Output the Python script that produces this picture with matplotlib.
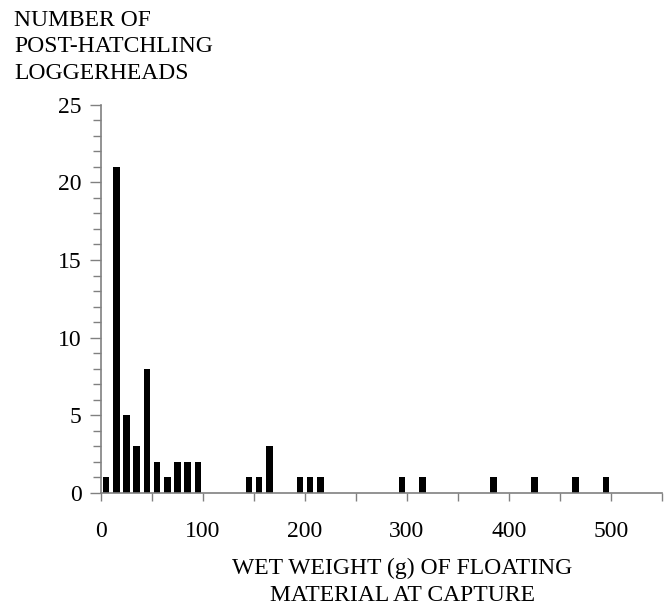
import numpy as np
import matplotlib.pyplot as plt
from matplotlib.ticker import MultipleLocator

plt.rcParams['font.family'] = ['Liberation Serif', 'DejaVu Serif']

# bin centres (g) and counts of post-hatchling loggerheads
weight = [5, 15, 25, 35, 45, 55, 65, 75, 85, 95,
          145, 155, 165, 195, 205, 215,
          295, 315, 385, 425, 465, 495]
count = [1, 21, 5, 3, 8, 2, 1, 2, 2, 2,
         1, 1, 3, 1, 1, 1,
         1, 1, 1, 1, 1, 1]
x_ticks = [0, 100, 200, 300, 400, 500]
y_ticks = [0, 5, 10, 15, 20, 25]

fig = plt.figure(figsize=(6.67, 6.05), dpi=100)
ax = fig.add_axes([101 / 667, 1 - 493 / 605, 561 / 667, (493 - 104.7) / 605])

ax.bar(weight, count, width=6.5, color='black', align='center')

ax.set_xlim(0, 550)
ax.set_ylim(0, 25)
ax.set_xticks(x_ticks)
ax.set_yticks(y_ticks)
ax.xaxis.set_minor_locator(MultipleLocator(50))
ax.yaxis.set_minor_locator(MultipleLocator(1))

grey = '#808080'
for s in ['top', 'right']:
    ax.spines[s].set_visible(False)
for s in ['left', 'bottom']:
    ax.spines[s].set_color(grey)
    ax.spines[s].set_linewidth(1.2)

ax.tick_params(axis='x', which='major', direction='out', length=6, color=grey,
               width=1, labelsize=17, pad=14)
ax.tick_params(axis='x', which='minor', direction='out', length=6, color=grey, width=1)
ax.tick_params(axis='y', which='major', direction='out', length=8, color=grey,
               width=1, labelsize=17, pad=6)
ax.tick_params(axis='y', which='minor', direction='out', length=6, color=grey, width=1)

fig.text(14 / 667, 1 - 10 / 605, 'NUMBER OF\nPOST-HATCHLING\nLOGGERHEADS',
         fontsize=17, ha='left', va='top', linespacing=1.34)
fig.text(402 / 667, 1 - 558 / 605, 'WET WEIGHT (g) OF FLOATING\nMATERIAL AT CAPTURE',
         fontsize=17, ha='center', va='top', linespacing=1.39)

fig.savefig('out.png', dpi=100)
